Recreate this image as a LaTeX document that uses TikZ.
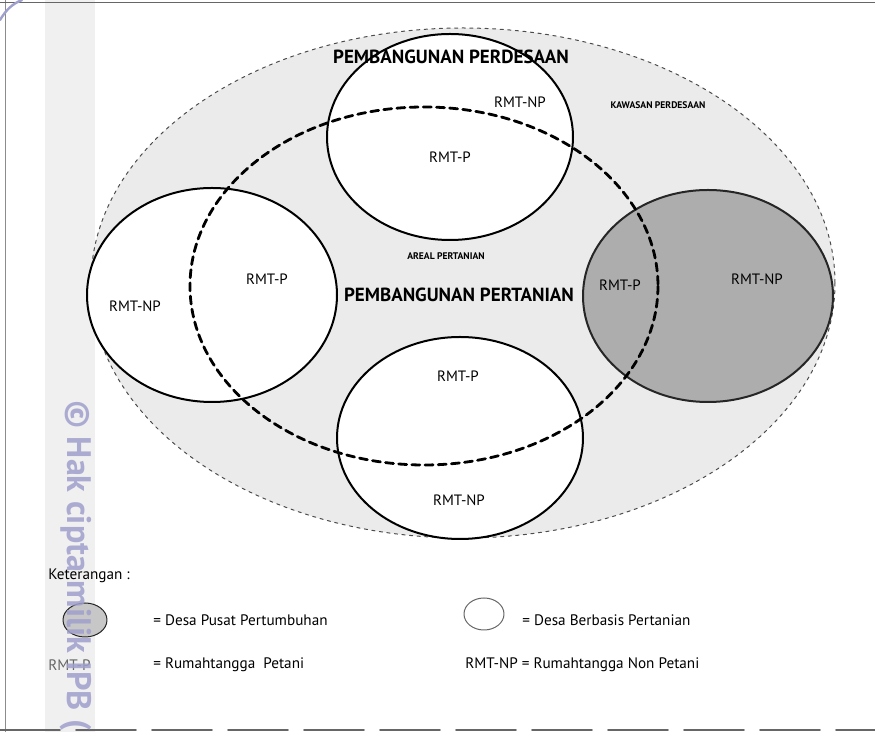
\documentclass[tikz,border=0pt]{standalone}
\usepackage{fontspec}
\setmainfont{PT Sans}
\usetikzlibrary{positioning}
\definecolor{ipbwm}{RGB}{160,160,205}

\begin{document}
\begin{tikzpicture}[x=0.5pt,y=-0.5pt,line cap=round,line join=round,
    desa/.style={draw=black,line width=1pt,fill=white},
    pusat/.style={draw=black!85,line width=1pt,fill=black!32},
    areal/.style={draw=black,line width=1.4pt,dash pattern=on 4pt off 2.6pt},
    kawasan/.style={draw=black!70,line width=.5pt,
      dash pattern=on 1.6pt off 2.2pt,fill=black!8},
    rmt/.style={font=\fontsize{7.5}{9}\selectfont},
    judul/.style={font=\fontsize{9.5}{11}\selectfont\bfseries},
    kecil/.style={font=\fontsize{4.8}{6}\selectfont\bfseries},
    ket/.style={font=\fontsize{7.6}{10}\selectfont,anchor=west,inner sep=0pt}]
  \useasboundingbox (0,0) rectangle (875,732);

  % Scan margin and watermark band.
  \fill[black!6] (45,0) rectangle (95,732);
  \draw[black!45,line width=.4pt] (5,0) -- (5,732);
  \draw[black!60,line width=.5pt] (0,3) -- (875,3);
  \draw[black!60,line width=.8pt,dash pattern=on 30pt off 8pt]
    (0,730) -- (875,730);

  % Rural area with the village circles.
  \draw[kawasan] (463,283) ellipse (372 and 255);
  \draw[desa] (450,137) ellipse (123 and 103);
  \draw[desa] (212,295) ellipse (125 and 107);
  \draw[desa] (460,438) ellipse (123 and 101);
  \draw[pusat] (708,296) ellipse (125 and 106);

  % Agricultural area.
  \draw[areal] (424,286) ellipse (234 and 179);

  \node[judul] (perdesaan) at (451,57) {PEMBANGUNAN PERDESAAN};
  \node[judul] (pertanian) at (459,295) {PEMBANGUNAN PERTANIAN};
  \node[kecil] (kawasanlbl) at (658,105) {KAWASAN PERDESAAN};
  \node[kecil] (areallbl) at (446,256) {AREAL PERTANIAN};

  % Households in every village.
  \node[rmt] (atasnp) at (520,102) {RMT-NP};
  \node[rmt] (atasp) at (450,157) {RMT-P};
  \node[rmt] (kirinp) at (135,306) {RMT-NP};
  \node[rmt] (kirip) at (267,279) {RMT-P};
  \node[rmt] (bawahp) at (458,376) {RMT-P};
  \node[rmt] (bawahnp) at (459,500) {RMT-NP};
  \node[rmt] (kananp) at (620,285) {RMT-P};
  \node[rmt] (anannp) at (757,279) {RMT-NP};

  % Legend.
  \node[ket] (keterangan) at (48,576) {Keterangan :};
  \draw[pusat,line width=.5pt,fill=black!22] (85,620) ellipse (22 and 17);
  \node[ket] (pusatket) at (153,620) {= Desa Pusat Pertumbuhan};
  \draw[black!60,line width=.5pt] (484,614) ellipse (20 and 16);
  \node[ket] (desaket) at (522,620) {= Desa Berbasis Pertanian};
  \node[ket,text=black!60] (rmtpket) at (48,665) {RMT-P};
  \node[ket] (petaniket) at (153,665) {= Rumahtangga\ \ Petani};
  \node[ket] (rmtnpket) at (465,665) {RMT-NP = Rumahtangga Non Petani};

  % Watermark of the scan.
  \draw[ipbwm,line width=1.2pt] (0,20) .. controls (6,10) and (12,4) .. (22,0);
  \node[rotate=-90,anchor=west,text=ipbwm,opacity=.85,
    font=\fontsize{17}{19}\selectfont\bfseries] (ipb) at (76,393)
    {\textcopyright\ Hak cipta milik IPB (};
\end{tikzpicture}
\end{document}
